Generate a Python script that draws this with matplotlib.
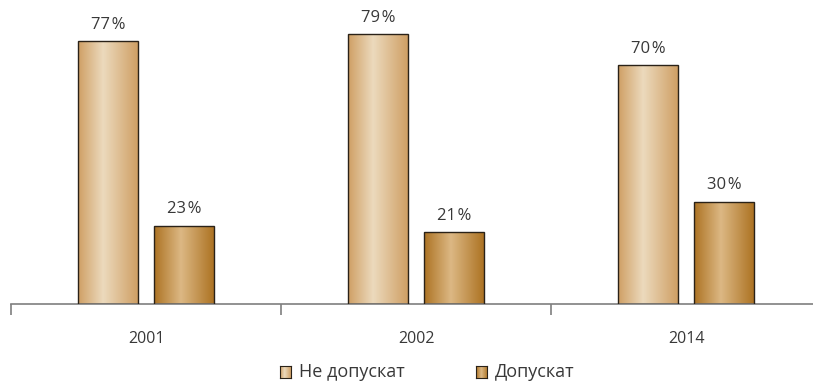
import numpy as np
import matplotlib.pyplot as plt
from matplotlib.colors import LinearSegmentedColormap

# Дані
years = ['2001', '2002', '2014']
ne_dopuskat = [77, 79, 70]
dopuskat = [23, 21, 30]
series_names = ['Не допускат', 'Допускат']

plt.rcParams['font.family'] = ['Open Sans', 'DejaVu Sans']

# Градієнти для стовпців (краї -> світла середина -> краї)
light_cmap = LinearSegmentedColormap.from_list(
    'light', [(0.0, '#cf9f64'), (0.42, '#ecdabd'), (1.0, '#cf9f64')])
dark_cmap = LinearSegmentedColormap.from_list(
    'dark', [(0.0, '#ad7323'), (0.45, '#dcb884'), (1.0, '#ad7323')])
grad = np.linspace(0, 1, 256).reshape(1, -1)

fig = plt.figure(figsize=(8.13, 3.83), dpi=100)
ax = fig.add_axes([11 / 813, 79 / 383, 802 / 813, 304 / 383])

x = np.arange(len(years))
offset = 0.1407
width = 0.222


def gradient_bars(xpos, values, cmap):
    bars = ax.bar(xpos, values, width, facecolor='none', edgecolor='#2a2218',
                  linewidth=1.0, zorder=3)
    for b in bars:
        x0, y0 = b.get_x(), b.get_y()
        im = ax.imshow(grad, cmap=cmap, aspect='auto', zorder=2,
                       extent=[x0, x0 + b.get_width(), y0, y0 + b.get_height()])
        im.set_clip_path(b)
    for xi, v in zip(xpos, values):
        ax.annotate(f'{v}\u200a%', (xi, v), xytext=(0, 6), textcoords='offset points',
                    ha='center', va='bottom', fontsize=12, color='#383838')
    return bars


gradient_bars(x - offset, ne_dopuskat, light_cmap)
gradient_bars(x + offset, dopuskat, dark_cmap)

ax.set_xlim(-0.5, 2.47)
ax.set_ylim(0, 89.1)

for s in ['top', 'right', 'left']:
    ax.spines[s].set_visible(False)
ax.spines['bottom'].set_color('#7f7f7f')
ax.spines['bottom'].set_linewidth(1.2)
ax.set_yticks([])
ax.set_xticks([-0.5, 0.5, 1.5], minor=False)
ax.set_xticklabels([])
ax.tick_params(axis='x', which='major', length=8, color='#7f7f7f', width=1.2)
for xi, yr in zip(x, years):
    ax.annotate(yr, (xi, 0), xytext=(0, -25), textcoords='offset points',
                ha='center', va='center', fontsize=11.5, color='#383838',
                annotation_clip=False)

# Легенда
legend_items = [(280, light_cmap, series_names[0]), (476, dark_cmap, series_names[1])]
for px, cmap, name in legend_items:
    lax = fig.add_axes([px / 813, (383 - 378) / 383, 11 / 813, 12 / 383])
    lax.imshow(grad, cmap=cmap, aspect='auto')
    lax.set_xticks([])
    lax.set_yticks([])
    for sp in lax.spines.values():
        sp.set_color('#2a2218')
        sp.set_linewidth(0.8)
    fig.text((px + 19) / 813, (383 - 372) / 383, name, ha='left', va='center',
             fontsize=13, color='#383838')

fig.savefig('out.png', dpi=100)
